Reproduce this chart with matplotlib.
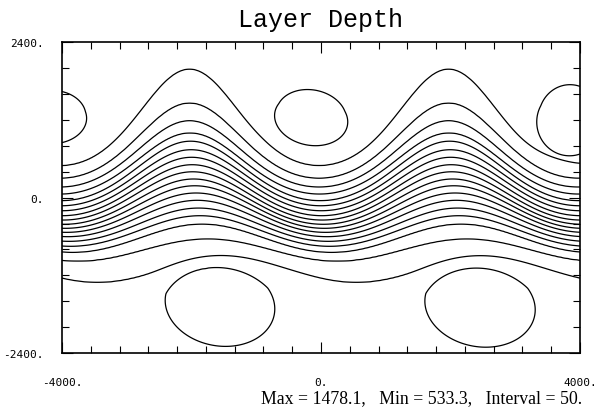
import numpy as np
import matplotlib
matplotlib.use("Agg")
import matplotlib.pyplot as plt

# contour summary printed under the plot
cn_max = 1478.1
cn_min = 533.3
cn_interval = 50.0

# mean cross-jet position of each open contour and its depth value
line_s = [-1120, -808, -625, -514, -417, -321, -231, -144, -61,
          28, 116, 212, 309, 414, 528, 677, 881, 1242]
line_h = [600, 650, 700, 750, 800, 850, 900, 950, 1000,
          1050, 1100, 1150, 1200, 1250, 1300, 1350, 1400, 1450]
# half amplitude of the meander for each of those contours
line_amp = [190, 170, 219, 236, 257, 281, 304, 329, 350,
            373, 394, 413, 433, 460, 471, 512, 580, 747]
# flat plateaus outside the jet
south_s = [-3500, -1500, -1250]
south_h = [560, 563, 568]
north_s = [1330, 2000, 3500]
north_h = [1463, 1471, 1478]

# crest position and crest sharpness across the jet
skew_s = [-1120, -808, -600, 0, 600, 1300]
skew_xc = [-1450, -1750, -1850, -1980, -2030, -2030]
skew_b = [0.0, 0.0, 0.05, 0.12, 0.2, 0.27]
wavelength = 4000.0

# recirculation cells (centre, radius, tilt, strength)
eddy_x = [-147, 3850, -4150, -1563, 2453]
eddy_y = [1286, 1275, 1290, -1638, -1650]
eddy_rx = [582, 517, 560, 760, 765]
eddy_ry = [444, 560, 430, 565, 565]
eddy_tilt = [-12, 0, 0, -10, -10]
eddy_amp = [-30, -30, -30, -28, -28]

x = np.linspace(-4000, 4000, 401)
y = np.linspace(-2400, 2400, 241)
X, Y = np.meshgrid(x, y)

prof_s = np.array(south_s + line_s + north_s, float)
prof_h = np.array(south_h + line_h + north_h, float)

# jet coordinate s(x, y): invert y = s + a(s) * cos(phase) column by column
sg = np.linspace(-3500, 3500, 2801)
ag = np.interp(sg, line_s, line_amp)
xcg = np.interp(sg, skew_s, skew_xc)
bg = np.interp(sg, skew_s, skew_b)
S = np.empty_like(X)
for i, xi in enumerate(x):
    th = 2 * np.pi * (xi - xcg) / wavelength
    th = (th + np.pi) % (2 * np.pi) - np.pi
    yg = sg + ag * np.cos(th + bg * np.sin(th))
    S[:, i] = np.interp(y, yg, sg)
H = np.interp(S, prof_s, prof_h)

for ex, ey, rx, ry, tl, am in zip(eddy_x, eddy_y, eddy_rx, eddy_ry, eddy_tilt, eddy_amp):
    c, s = np.cos(np.radians(tl)), np.sin(np.radians(tl))
    u = (X - ex) * c + (Y - ey) * s
    v = -(X - ex) * s + (Y - ey) * c
    r2 = (u / rx) ** 2 + (v / ry) ** 2
    H += am * np.exp(-0.5 * r2 ** 2)

levels = np.arange(np.ceil(cn_min / cn_interval) * cn_interval, cn_max, cn_interval)

fig = plt.figure(figsize=(6.0, 4.14), dpi=100)
ax = fig.add_axes([0.1033, 0.145, 0.8634, 0.750])
ax.contour(X, Y, H, levels=levels, colors="black", linewidths=0.9, linestyles="solid")

ax.set_xlim(-4000, 4000)
ax.set_ylim(-2400, 2400)
ax.set_xticks([-4000, 0, 4000])
ax.set_xticklabels(["-4000.", "0.", "4000."])
ax.set_yticks([-2400, 0, 2400])
ax.set_yticklabels(["-2400.", "0.", "2400."])
ax.set_xticks(np.linspace(-4000, 4000, 19), minor=True)
ax.set_yticks(np.arange(-2400, 2401, 400), minor=True)
ax.tick_params(which="both", direction="in", top=True, right=True, width=0.8, colors="black")
ax.tick_params(which="major", length=8)
ax.tick_params(which="minor", length=5)
ax.tick_params(axis="x", which="major", pad=17, labelsize=8)
ax.tick_params(axis="y", which="major", pad=13, labelsize=8)
for lab in ax.get_xticklabels() + ax.get_yticklabels():
    lab.set_family("DejaVu Sans Mono")
for sp in ax.spines.values():
    sp.set_linewidth(1.2)

ax.set_title("Layer Depth", family="Liberation Mono", fontsize=18, pad=12)
fig.text(0.97, 0.038,
         "Max = %.1f,   Min = %.1f,   Interval = %g." % (cn_max, cn_min, cn_interval),
         ha="right", va="center", family="Liberation Serif", fontsize=12.8)

fig.savefig("out.png", dpi=100)
